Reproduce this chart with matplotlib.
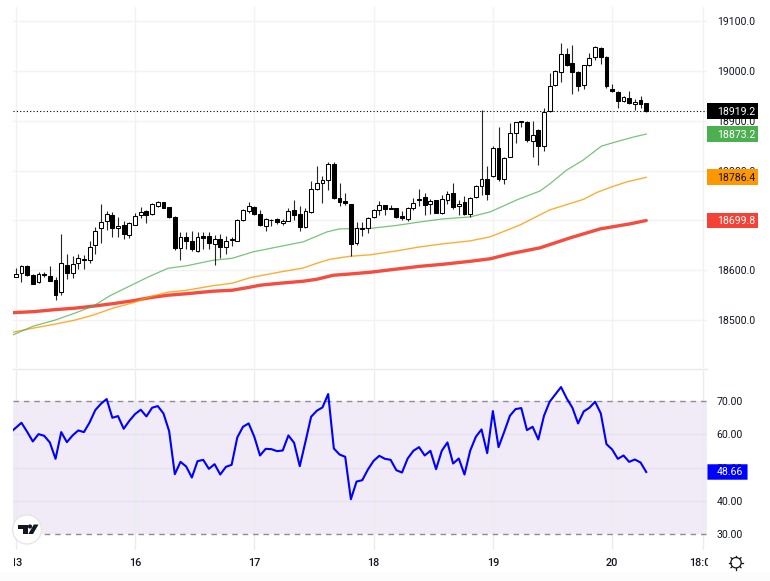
import matplotlib
matplotlib.use("Agg")
import matplotlib.pyplot as plt
from matplotlib.patches import Rectangle, Circle, Polygon, FancyBboxPatch
from matplotlib.transforms import Bbox, TransformedBbox, blended_transform_factory

# Candles, hourly-ish bars (21 per day)
opens = [18586, 18595, 18608, 18591, 18576, 18592, 18588, 18580, 18556, 18610, 18594, 18614, 18621, 18621, 18650, 18685,
         18698, 18711, 18684, 18690, 18671, 18690, 18710, 18719, 18712, 18729, 18736, 18726, 18707, 18645, 18667, 18658,
         18638, 18669, 18669, 18653, 18663, 18646, 18660, 18659, 18701, 18719, 18726, 18713, 18689, 18700, 18702, 18695,
         18699, 18720, 18713, 18686, 18716, 18762, 18776, 18781, 18813, 18745, 18739, 18732, 18655, 18682, 18684, 18706,
         18721, 18730, 18724, 18724, 18709, 18703, 18724, 18741, 18746, 18732, 18740, 18714, 18740, 18755, 18728, 18736,
         18712, 18746, 18770, 18783, 18790, 18845, 18783, 18827, 18875, 18899, 18898, 18859, 18881, 18850, 18919, 18971,
         18998, 19034, 19015, 18998, 18972, 19011, 19027, 19046, 19027, 18963, 18958, 18940, 18946, 18934, 18941, 18936]
highs = [18604, 18610, 18610, 18592, 18596, 18596, 18608, 18587, 18672, 18632, 18629, 18632, 18630, 18659, 18687, 18733,
         18719, 18717, 18706, 18699, 18697, 18714, 18726, 18721, 18734, 18738, 18737, 18727, 18709, 18676, 18677, 18679,
         18676, 18677, 18677, 18671, 18673, 18669, 18667, 18702, 18723, 18736, 18728, 18720, 18704, 18702, 18705, 18702,
         18724, 18740, 18729, 18724, 18780, 18810, 18790, 18817, 18817, 18776, 18754, 18733, 18697, 18696, 18706, 18722,
         18739, 18731, 18731, 18725, 18718, 18726, 18744, 18763, 18754, 18742, 18741, 18751, 18758, 18776, 18740, 18748,
         18746, 18771, 18922, 18809, 18850, 18887, 18828, 18896, 18898, 18900, 18899, 18900, 18883, 18925, 18996, 19002,
         19055, 19045, 19052, 19000, 19012, 19035, 19050, 19047, 19029, 18974, 18960, 18950, 18960, 18943, 18950, 18936]
lows = [18586, 18576, 18588, 18572, 18575, 18586, 18578, 18540, 18550, 18582, 18584, 18602, 18602, 18615, 18632, 18654,
        18681, 18666, 18666, 18662, 18665, 18690, 18705, 18694, 18711, 18727, 18725, 18704, 18641, 18620, 18642, 18638,
        18637, 18642, 18642, 18610, 18624, 18632, 18649, 18659, 18699, 18714, 18711, 18689, 18679, 18689, 18693, 18691,
        18699, 18701, 18679, 18685, 18715, 18761, 18734, 18760, 18743, 18728, 18731, 18629, 18650, 18669, 18674, 18704,
        18711, 18711, 18722, 18705, 18701, 18699, 18721, 18728, 18710, 18713, 18714, 18713, 18733, 18722, 18711, 18711,
        18707, 18744, 18751, 18741, 18788, 18779, 18773, 18827, 18856, 18888, 18858, 18827, 18811, 18840, 18918, 18970,
        18978, 19010, 18954, 18960, 18963, 19010, 19022, 19014, 18965, 18958, 18925, 18938, 18934, 18921, 18925, 18917]
closes = [18593, 18608, 18590, 18573, 18592, 18590, 18579, 18550, 18614, 18594, 18612, 18625, 18622, 18646, 18678, 18697,
          18713, 18685, 18689, 18673, 18694, 18709, 18717, 18710, 18732, 18736, 18725, 18706, 18645, 18667, 18659, 18642,
          18667, 18665, 18655, 18663, 18647, 18658, 18662, 18701, 18720, 18729, 18713, 18690, 18702, 18701, 18697, 18699,
          18718, 18710, 18687, 18718, 18762, 18776, 18781, 18813, 18744, 18736, 18734, 18653, 18684, 18685, 18704, 18721,
          18730, 18723, 18723, 18706, 18705, 18724, 18734, 18742, 18731, 18738, 18715, 18742, 18753, 18726, 18733, 18712,
          18745, 18770, 18783, 18752, 18845, 18784, 18825, 18875, 18897, 18897, 18861, 18872, 18850, 18918, 18970, 19000,
          19034, 19012, 18998, 18969, 19011, 19026, 19048, 19028, 18970, 18959, 18939, 18948, 18935, 18938, 18933, 18919.2]

# moving averages, read at a few bar positions
ma_fast_x = [-0.4, 3.1, 6.9, 10.4, 13.6, 16.6, 20.7, 23.6, 26.8, 30.1, 34.7, 38.1, 41.8, 45.3, 50.6, 54.8, 57, 62.4,
             67.1, 71.2, 75.2, 80, 83.5, 88.4, 92.3, 94, 97, 99.9, 103.1, 105.8, 108.7, 111]
ma_fast = [18471, 18488, 18500, 18514, 18528, 18549, 18572, 18588, 18604, 18609, 18620, 18624, 18637, 18645, 18657,
           18677, 18683, 18684, 18690, 18697, 18703, 18707, 18717, 18742, 18759, 18773, 18801, 18821, 18849, 18858,
           18867, 18873.2]
ma_mid_x = [-0.4, 3.1, 6.9, 10.4, 13.6, 17.1, 20.7, 23.6, 26.8, 30.1, 34.7, 38.1, 41.2, 43, 46.5, 50.6, 53, 55.3, 58.8,
            62.4, 67.1, 71.2, 75.2, 80, 83.5, 88.8, 94, 99.9, 102.3, 104.6, 107.5, 111]
ma_mid = [18476, 18484, 18492, 18500, 18510, 18524, 18535, 18547, 18556, 18560, 18569, 18574, 18585, 18589, 18596.5,
          18604.5, 18614, 18622, 18628, 18631, 18639, 18647, 18653, 18659, 18667, 18691, 18721, 18742, 18756, 18766,
          18777, 18786.4]
ma_slow_x = [-0.4, 3.1, 6.9, 10.4, 13.6, 17.1, 20.7, 23.6, 26.8, 30.1, 34.7, 38.1, 41.2, 43, 46.5, 50.6, 53, 55.9, 58.8,
             62.4, 67.1, 71.2, 75.2, 80, 83.5, 87, 92.3, 97.6, 102.9, 108.1, 111]
ma_slow = [18515, 18517, 18521, 18524, 18528, 18533, 18539, 18545, 18550, 18553, 18558, 18560, 18566, 18570, 18574,
           18578, 18582, 18590, 18592.5, 18596, 18602.5, 18608, 18612, 18618, 18623, 18633, 18645, 18665, 18683, 18693,
           18699.8]

# RSI, first value is the bar before the window
rsi = [60.4, 61.9, 63.4, 60.7, 57.8, 60.0, 59.5, 57.5, 52.6, 60.6, 57.6, 59.6, 61.1, 60.6, 63.5, 67.2, 69.1, 70.5, 64.9,
       65.4, 61.6, 64.0, 66.0, 67.3, 65.3, 67.9, 68.4, 66.2, 60.9, 48.0, 51.7, 50.3, 47.0, 51.9, 52.3, 49.6, 51.0, 47.9,
       50.2, 50.8, 59.0, 62.2, 63.2, 59.2, 53.6, 55.6, 55.5, 54.9, 55.1, 59.6, 57.4, 50.4, 57.7, 65.2, 67.0, 68.0, 72.0,
       55.7, 53.9, 53.2, 40.5, 45.8, 46.2, 49.4, 52.0, 53.5, 52.6, 52.3, 49.2, 48.5, 52.7, 55.0, 56.1, 53.6, 55.0, 49.5,
       55.0, 57.5, 51.2, 52.7, 47.9, 55.0, 59.2, 61.4, 54.3, 66.9, 56.1, 60.7, 65.5, 67.5, 67.8, 61.2, 62.2, 58.4, 65.5,
       69.7, 71.9, 74.1, 70.7, 67.9, 63.2, 66.8, 67.9, 69.7, 66.2, 57.0, 55.4, 52.6, 53.6, 51.7, 52.4, 51.5, 48.66]

price_ticks = [18500, 18600, 18700, 18800, 18900, 19000, 19100]
rsi_ticks = [30, 40, 50, 60, 70]
day_pos = [0, 21, 42, 63, 84, 105, 121]
day_labels = ["13", "16", "17", "18", "19", "20", "18:00"]
last_labels = [("18919.2", 18919.2, "#000000", "white"), ("18873.2", 18873.2, "#4CAF50", "white"),
               ("18786.4", 18786.4, "#FF9800", "#131722"), ("18699.8", 18699.8, "#F44336", "white")]

W, H = 770, 581
GRID = "#f2f2f4"
TEXT = "#131722"
plt.rcParams["font.family"] = ["Roboto", "DejaVu Sans"]


def box(x0, y0, x1, y1):
    # pixel box (y from the top) to figure fractions
    return [x0 / W, 1 - y1 / H, (x1 - x0) / W, (y1 - y0) / H]


def px(x, y):
    return x / W, 1 - y / H


def inch(x, y):
    return x / 100, (H - y) / 100


fig = plt.figure(figsize=(W / 100, H / 100), dpi=100, facecolor="white")
ax = fig.add_axes(box(13, 7, 707, 368))
ax2 = fig.add_axes(box(13, 369, 707, 550))
xlim = (-0.49, 121.7)

for a in (ax, ax2):
    a.set_xlim(*xlim)
    a.set_xticks(day_pos)
    a.set_xticklabels([])
    a.tick_params(length=0)
    a.yaxis.tick_right()
    a.tick_params(axis="y", labelsize=7.6, labelcolor=TEXT, pad=7)
    a.set_axisbelow(True)
    for s in a.spines.values():
        s.set_visible(False)
    a.patch.set_alpha(0)

# main panel
ax.set_ylim(18404, 19128)
ax.set_yticks(price_ticks)
ax.set_yticklabels(["%.1f" % t for t in price_ticks])
ax.grid(True, color=GRID, linewidth=1)

ax.plot(ma_slow_x, ma_slow, color="#F44336", linewidth=2.4, alpha=0.95, solid_capstyle="round", zorder=2)
ax.plot(ma_mid_x, ma_mid, color="#FF9800", linewidth=1.0, alpha=0.8, zorder=2)
ax.plot(ma_fast_x, ma_fast, color="#4CAF50", linewidth=0.9, alpha=0.75, zorder=2)

for i in range(len(opens)):
    o, h, l, c = opens[i], highs[i], lows[i], closes[i]
    ax.plot([i, i], [l, h], color="black", linewidth=0.8, alpha=0.85, zorder=3, solid_capstyle="butt")
    fill = "white" if c >= o else "black"
    ax.add_patch(Rectangle((i - 0.34, min(o, c)), 0.68, max(abs(c - o), 1.5), facecolor=fill, edgecolor="black",
                           linewidth=0.75, zorder=4))

ax.axhline(closes[-1], color="black", linewidth=0.8, linestyle=(0, (1, 2)), zorder=5)

# last value tags on the price scale
tr = blended_transform_factory(fig.transFigure, ax.transData)
for label, val, bg, fg in last_labels:
    ax.add_patch(Rectangle((707 / W, val - 16), 51 / W, 32, transform=tr, facecolor=bg, edgecolor="none",
                           clip_on=False, zorder=6))
    ax.text(717 / W, val - 1, label, transform=tr, color=fg, fontsize=7.6, va="center", ha="left", zorder=7,
            clip_on=False)

# RSI panel
ax2.set_ylim(25.3, 79.5)
ax2.set_yticks(rsi_ticks)
ax2.set_yticklabels(["%.2f" % t for t in rsi_ticks])
ax2.grid(True, axis="x", color="#ecebf0", linewidth=1)
ax2.axhspan(30, 70, color="#f0ebf7", linewidth=0, zorder=0)
for t in [40, 50, 60]:
    ax2.axhline(t, color="#e6e1ee", linewidth=1, zorder=1)
ax2.axhline(70, color="#8f8c96", linewidth=1, linestyle=(0, (4, 3.5)), zorder=2)
ax2.axhline(30, color="#8f8c96", linewidth=1, linestyle=(0, (4, 3.5)), zorder=2)
ax2.plot(range(-1, len(rsi) - 1), rsi, color="#0000FF", linewidth=1.5, zorder=3)

tr2 = blended_transform_factory(fig.transFigure, ax2.transData)
ax2.add_patch(FancyBboxPatch((708.5 / W, rsi[-1] - 2.0), 38 / W, 4.0, boxstyle="round,pad=0,rounding_size=0.002",
                             transform=tr2, facecolor="#0000FF", edgecolor="#0000FF", linewidth=1.5, clip_on=False,
                             zorder=6))
ax2.text(717 / W, rsi[-1] - 0.1, "48.66", transform=tr2, color="white", fontsize=7.6, va="center", ha="left", zorder=7,
         clip_on=False)

# panel divider, bottom strip
fig.add_artist(plt.Line2D([13 / W, 707 / W], [1 - 368.5 / H] * 2, color="#e8eaf0", linewidth=1))
fig.add_artist(Rectangle(px(0, 581), 1, 9 / H, transform=fig.transFigure, facecolor="#fcfcfc", edgecolor="none",
                         zorder=-1))

# time labels, first and last are cut off by the scale edges
clip = TransformedBbox(Bbox([[13.5 / W, 0], [708 / W, 1]]), fig.transFigure)
for pos, label in zip(day_pos, day_labels):
    x = ax2.transData.transform((pos, 50))[0] / W
    t = fig.text(x, 1 - 562.5 / H, label, color=TEXT, fontsize=7.8, fontweight="medium", ha="center", va="center")
    t.set_clip_box(clip)
    t.set_clip_on(True)

# TradingView badge
fig.add_artist(Circle(inch(27, 529.5), 0.145, transform=fig.dpi_scale_trans, facecolor="white", edgecolor="#e6e6ea",
                      linewidth=1))
logo_t = [(18, 524.5), (27.5, 524.5), (27.5, 534), (23, 534), (23, 528.5), (18, 528.5)]
logo_v = [(33.8, 524.5), (38.5, 524.5), (33, 534), (28.3, 534)]
for pts in (logo_t, logo_v):
    fig.add_artist(Polygon([px(*p) for p in pts], closed=True, transform=fig.transFigure, facecolor="#131722",
                           edgecolor="none"))
fig.add_artist(Circle(inch(30, 526.5), 0.021, transform=fig.dpi_scale_trans, facecolor="#131722", edgecolor="none"))

# settings icon
fig.add_artist(Circle(inch(736, 562.7), 0.052, transform=fig.dpi_scale_trans, facecolor="none", edgecolor=TEXT,
                      linewidth=0.9))
rays = [(0, -7), (5, -5), (7, 0), (5, 5), (0, 7), (-5, 5), (-7, 0), (-5, -5)]
for dx, dy in rays:
    fig.add_artist(plt.Line2D([(736 + dx * 0.78) / W, (736 + dx) / W],
                              [1 - (562.7 + dy * 0.78) / H, 1 - (562.7 + dy) / H], color=TEXT, linewidth=0.9))

fig.savefig("out.png", dpi=100)
